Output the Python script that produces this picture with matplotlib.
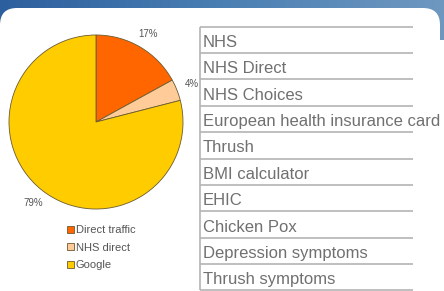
import numpy as np
import matplotlib
matplotlib.use('Agg')
import matplotlib.pyplot as plt
from matplotlib.patches import FancyBboxPatch, Patch

plt.rcParams['font.family'] = ['Liberation Sans', 'DejaVu Sans']

# pie data
sources = ['Direct traffic', 'NHS direct', 'Google']
shares = [17, 4, 79]
pie_colors = ['#ff6600', '#ffcc99', '#ffcc00']

# search terms table
terms = ['NHS', 'NHS Direct', 'NHS Choices', 'European health insurance card',
         'Thrush', 'BMI calculator', 'EHIC', 'Chicken Pox',
         'Depression symptoms', 'Thrush symptoms']

W, H = 444, 291
fig = plt.figure(figsize=(W / 100, H / 100), dpi=100, facecolor='white')

# background: blue header band + white rounded panel (pixel coords)
bg = fig.add_axes([0, 0, 1, 1])
bg.set_xlim(0, W)
bg.set_ylim(H, 0)
bg.axis('off')
grad = np.linspace(0, 1, 256).reshape(1, -1)
cmap = matplotlib.colors.LinearSegmentedColormap.from_list('hdr', ['#2c5f9d', '#4a7fb3', '#6f98c0'])
bg.imshow(grad, cmap=cmap, extent=(0, W, 40, 0), aspect='auto', zorder=0)
bg.add_patch(FancyBboxPatch((0, 8), 440, 330, boxstyle='round,pad=0,rounding_size=17',
                            fc='white', ec='none', zorder=1))
bg.set_xlim(0, W)
bg.set_ylim(H, 0)

# pie
cx, cy, r = 96, 122, 87
ax = fig.add_axes([(cx - r) / W, (H - cy - r) / H, 2 * r / W, 2 * r / H])
wedges, texts = ax.pie(shares, colors=pie_colors, startangle=90, counterclock=False,
                       labels=[f'{v}%' for v in shares], labeldistance=1.18,
                       wedgeprops=dict(edgecolor='#6b5a30', linewidth=0.6),
                       textprops=dict(fontsize=7, color='#555555'))
for t in texts:
    t.set_horizontalalignment('center')
ax.set_xlim(-1, 1)
ax.set_ylim(-1, 1)
ax.set_aspect('auto')

handles = [Patch(facecolor=c, edgecolor='#6b5a30', linewidth=0.6) for c in pie_colors]
fig.legend(handles, sources, loc='upper left', bbox_to_anchor=(67 / W, 1 - 225 / H),
           frameon=False, fontsize=8, handlelength=0.6, handleheight=0.6,
           handletextpad=0.2, labelspacing=0.68, labelcolor='#555555',
           borderaxespad=0, borderpad=0)

# table of terms
top, bottom = 26.7, 290.4
left, right = 200, 413
at = fig.add_axes([left / W, (H - bottom) / H, (right - left) / W, (bottom - top) / H])
at.set_xlim(0, right - left)
at.set_ylim(len(terms), 0)
at.axis('off')
at.hlines(np.arange(len(terms) + 1), 0, right - left, color='#b4b4b4', linewidth=1.2,
          clip_on=False)
at.vlines(0, 0, len(terms), color='#b4b4b4', linewidth=1.2, clip_on=False)
for i, term in enumerate(terms):
    at.text(3, i + 0.77, term, fontsize=12, color='#707070', va='baseline', ha='left',
            clip_on=False)

fig.savefig('out.png', dpi=100, facecolor='white')
